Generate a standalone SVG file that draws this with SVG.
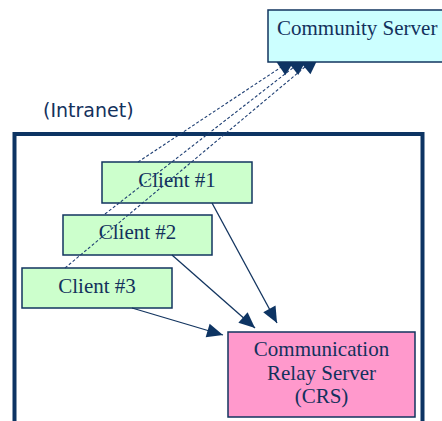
<svg xmlns="http://www.w3.org/2000/svg" width="442" height="421" viewBox="0 0 442 421">
  <style>
    .box { stroke: #12345f; stroke-width: 1.5; }
    .client { fill: #ccffcc; }
    .label { font-family: "Liberation Serif", "Times New Roman", serif; font-size: 21px; fill: #13315c; }
    .mid { text-anchor: middle; }
    .dash { fill: none; stroke: #1f3f73; stroke-width: 1.1; stroke-dasharray: 3 2; }
    .solid { fill: none; stroke: #12345f; stroke-width: 1.3; }
  </style>
  <defs>
    <marker id="head" markerUnits="userSpaceOnUse" markerWidth="20" markerHeight="20" refX="16" refY="7" orient="auto" overflow="visible">
      <path d="M0,0 L16,7 L0,14 Z" fill="#0d3463"/>
    </marker>
    <marker id="headLarge" markerUnits="userSpaceOnUse" markerWidth="24" markerHeight="24" refX="20" refY="9" orient="auto" overflow="visible">
      <path d="M0,0 L20,9 L0,18 Z" fill="#0d3463"/>
    </marker>
  </defs>

  <!-- intranet boundary -->
  <g id="intranet">
    <rect x="14.5" y="134" width="408" height="300" fill="none" stroke="#0d3463" stroke-width="4"/>
    <text x="43" y="117" font-family="'DejaVu Sans', Verdana, sans-serif" font-size="19" fill="#13315c">(Intranet)</text>
  </g>

  <g id="client1">
    <rect class="box client" x="102" y="162" width="150" height="41"/>
    <text class="label mid" x="177" y="187">Client #1</text>
  </g>
  <g id="client2">
    <rect class="box client" x="63" y="215" width="149" height="40"/>
    <text class="label mid" x="137.5" y="239">Client #2</text>
  </g>
  <g id="client3">
    <rect class="box client" x="22" y="268" width="150" height="40"/>
    <text class="label mid" x="97" y="293">Client #3</text>
  </g>

  <g id="crs">
    <rect class="box" x="228" y="332" width="187" height="85" fill="#ff99cc"/>
    <text class="label mid" x="321.5" y="356">Communication</text>
    <text class="label mid" x="321.5" y="380">Relay Server</text>
    <text class="label mid" x="321.5" y="403">(CRS)</text>
  </g>

  <!-- connectors: dashed links to the community server, solid links to the relay -->
  <g id="connectors">
    <line class="dash" x1="138" y1="162" x2="297" y2="56.6" marker-end="url(#headLarge)"/>
    <line class="dash" x1="105" y1="214" x2="308.5" y2="55.7" marker-end="url(#headLarge)"/>
    <line class="dash" x1="65" y1="268" x2="320" y2="54.4" marker-end="url(#headLarge)"/>
    <line class="solid" x1="212" y1="203" x2="277" y2="323" marker-end="url(#head)"/>
    <line class="solid" x1="172" y1="255" x2="255" y2="328" marker-end="url(#head)"/>
    <line class="solid" x1="132" y1="308" x2="223" y2="335" marker-end="url(#head)"/>
  </g>

  <g id="community-server">
    <rect class="box" x="268" y="10" width="190" height="52" fill="#ccffff"/>
    <text class="label" x="277" y="35">Community Server</text>
  </g>
</svg>
